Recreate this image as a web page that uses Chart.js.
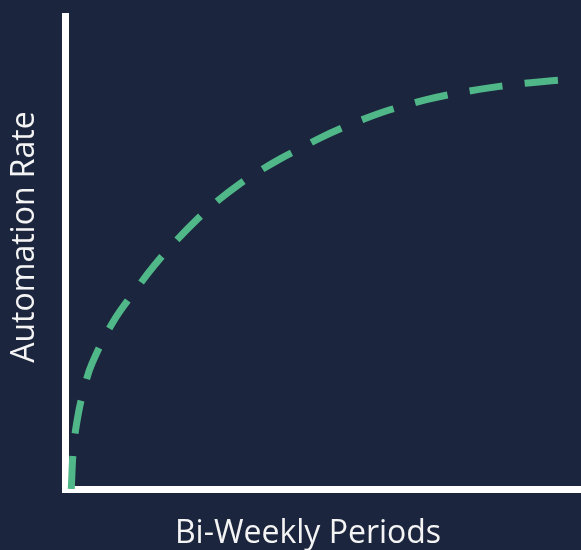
<!DOCTYPE html>
<html>
<head>
<meta charset="utf-8">
<script src="https://cdn.jsdelivr.net/npm/chart.js@4"></script>
<style>
  html, body { margin: 0; padding: 0; background: #1b253d; }
  #wrap { width: 581px; height: 550px; position: relative; overflow: hidden; }
</style>
</head>
<body>
<div id="wrap"><canvas id="chart" width="581" height="550"></canvas></div>
<script>
/* ---------- Data ---------- */
const periods = [0, 0.1, 0.3, 0.6, 1, 2, 3, 4, 5, 6, 7, 8, 9, 10, 11, 12, 13, 14, 15, 16, 17, 18, 19, 20, 21, 22, 23, 24];
const automationRate = [0, 8.4, 15, 21, 26.6, 35.3, 41.6, 47.4, 52.4, 56.9, 60.9, 64.3, 67.2, 69.8, 72.1, 74.4, 76.4, 78.2, 79.8, 81.1, 82.3, 83.3, 84.1, 84.8, 85.4, 85.9, 86.3, 86.6];
const xTitle = "Bi-Weekly Periods";
const yTitle = "Automation Rate";

const TEXT = "#f4f4f4";
const GREEN = "#50b888";
const FONT = "32px 'Open Sans'";

/* ---------- Axis titles (placed like the reference) ---------- */
const titlePlugin = {
  id: "titles",
  afterDraw(chart) {
    const ctx = chart.ctx;
    ctx.save();
    ctx.fillStyle = TEXT;
    ctx.font = FONT;
    ctx.textAlign = "center";
    ctx.textBaseline = "alphabetic";
    ctx.fillText(xTitle, 308, 543);
    ctx.translate(34, 237);
    ctx.rotate(-Math.PI / 2);
    ctx.fillText(yTitle, 0, 0);
    ctx.restore();
  },
};

new Chart(document.getElementById("chart"), {
  type: "line",
  data: {
    datasets: [{
      data: periods.map((p, i) => ({ x: p, y: automationRate[i] })),
      borderColor: GREEN,
      borderWidth: 7,
      borderDash: [33.4, 22.3],
      borderCapStyle: "butt",
      pointRadius: 0,
      fill: false,
      tension: 0.4,
    }],
  },
  options: {
    responsive: false,
    animation: false,
    layout: { padding: { left: 57, top: 16, right: 0, bottom: 53 } },
    plugins: { legend: { display: false }, tooltip: { enabled: false } },
    scales: {
      x: {
        type: "linear",
        min: -0.3,
        max: 24.4,
        ticks: { display: false },
        grid: { display: false },
        border: { color: "#ffffff", width: 7 },
      },
      y: {
        min: 0,
        max: 100,
        ticks: { display: false },
        grid: { display: false },
        border: { color: "#ffffff", width: 7 },
      },
    },
  },
  plugins: [titlePlugin],
});
</script>
</body>
</html>
